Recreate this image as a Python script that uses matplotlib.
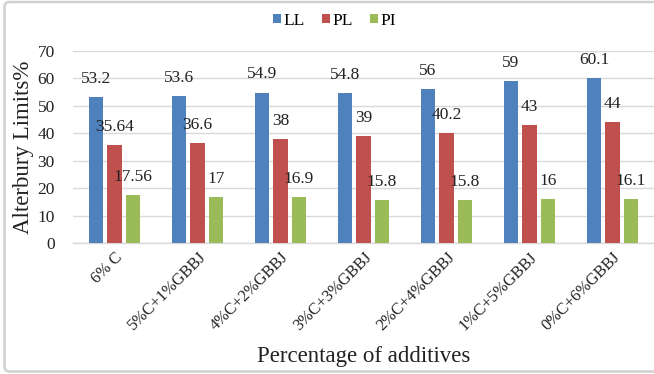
import matplotlib
matplotlib.use('Agg')
import matplotlib.pyplot as plt
from matplotlib.patches import FancyBboxPatch
import numpy as np

plt.rcParams['font.family'] = ['Liberation Serif', 'DejaVu Serif']

categories = ['6% C', '5%C+1%GBBJ', '4%C+2%GBBJ', '3%C+3%GBBJ',
              '2%C+4%GBBJ', '1%C+5%GBBJ', '0%C+6%GBBJ']
ll = [53.2, 53.6, 54.9, 54.8, 56, 59, 60.1]
pl = [35.64, 36.6, 38, 39, 40.2, 43, 44]
pi = [17.56, 17, 16.9, 15.8, 15.8, 16, 16.1]
ll_text = ['53.2', '53.6', '54.9', '54.8', '56', '59', '60.1']
pl_text = ['35.64', '36.6', '38', '39', '40.2', '43', '44']
pi_text = ['17.56', '17', '16.9', '15.8', '15.8', '16', '16.1']

series = [('LL', ll, ll_text, '#4F81BD'),
          ('PL', pl, pl_text, '#C0504D'),
          ('PI', pi, pi_text, '#9BBB59')]

fig = plt.figure(figsize=(6.54, 3.74), dpi=100)
ax = fig.add_axes([0.1116, 0.349, 0.8884, 0.5147])

x = np.arange(len(categories))
step = 0.223
width = 0.175
handles = []
for i, (name, vals, texts, color) in enumerate(series):
    pos = x + (i - 1) * step
    bars = ax.bar(pos, vals, width, color=color, label=name, zorder=3)
    handles.append(bars)
    for xp, v, t in zip(pos, vals, texts):
        ax.annotate(t, (xp, v), xytext=(0, 13), textcoords='offset points',
                    ha='center', va='center', fontsize=12.5, color='#222222')

ax.set_xlim(-0.5, len(categories) - 0.5)
ax.set_ylim(0, 70)
ax.set_yticks(range(0, 71, 10))
ax.yaxis.grid(True, color='#D9D9D9', linewidth=1, zorder=0)
ax.set_axisbelow(True)
for side in ['top', 'right', 'left']:
    ax.spines[side].set_visible(False)
ax.spines['bottom'].set_color('#D9D9D9')
ax.spines['bottom'].set_linewidth(1)
ax.tick_params(axis='y', length=0, pad=13, labelsize=12.5, labelcolor='#222222')
ax.tick_params(axis='x', length=0, pad=4, labelsize=11.8, labelcolor='#222222')
ax.set_xticks(x)
ax.set_xticklabels(categories, rotation=45, ha='right', rotation_mode='anchor')

ax.set_ylabel('Alterbury Limits%', fontsize=16.5, color='#222222', va='center')
ax.yaxis.set_label_coords(-0.086, 0.5)
ax.set_xlabel('Percentage of additives', fontsize=16.5, color='#222222', va='center')
ax.xaxis.set_label_coords(0.5, -0.585)

fig.legend(handles=handles, loc='center', bbox_to_anchor=(0.512, 0.945),
           ncol=3, frameon=False, fontsize=12.5, handlelength=0.45,
           handleheight=0.45, handletextpad=0.15, columnspacing=1.0,
           borderpad=0)

# light outer frame, open on the right
frame = FancyBboxPatch((0.045, 0.025), 6.7, 3.695,
                       boxstyle='round,pad=0,rounding_size=0.05',
                       transform=fig.dpi_scale_trans, fill=False,
                       edgecolor='#D0D0D0', linewidth=1.8)
fig.add_artist(frame)

fig.savefig('out.png', dpi=100)
